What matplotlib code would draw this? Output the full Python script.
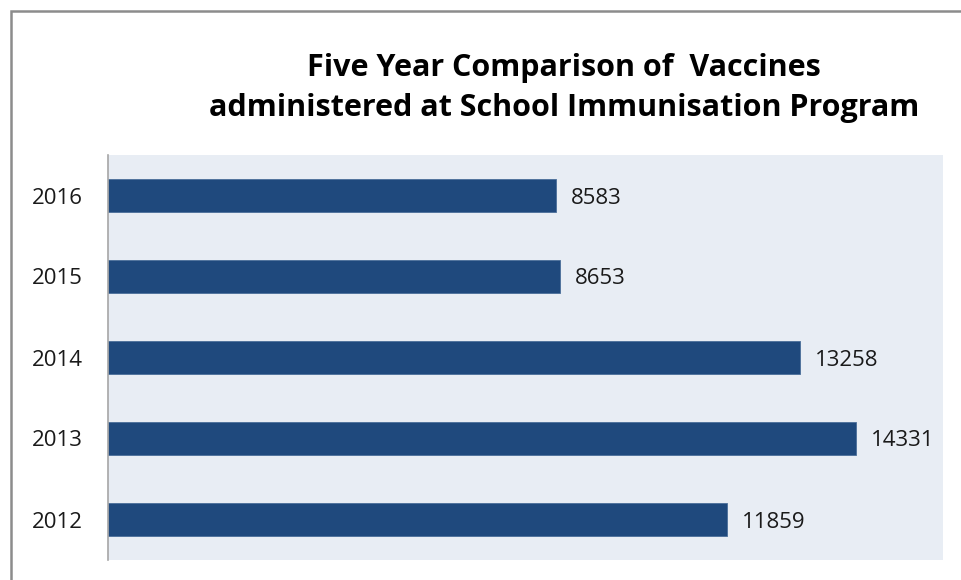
import matplotlib.pyplot as plt
from matplotlib.patches import Rectangle

years = ["2012", "2013", "2014", "2015", "2016"]
vaccines = [11859, 14331, 13258, 8653, 8583]

bar_color = "#1F497D"
panel_color = "#E8EDF4"

plt.rcParams["font.family"] = ["Open Sans", "DejaVu Sans"]

fig = plt.figure(figsize=(9.62, 5.8), dpi=100)

# gray frame around the chart, running off the right and bottom edges
fig.patches.append(Rectangle((11 / 962, -0.05), 1.0, 1 - 11 / 580 + 0.05,
                             transform=fig.transFigure, fill=False,
                             edgecolor="#8C8C8C", linewidth=1.8))

ax = fig.add_axes([108 / 962, 20 / 580, 835 / 962, 405 / 580])
ax.set_facecolor(panel_color)

pos = range(len(years))
bars = ax.barh(pos, vaccines, height=0.4, color=bar_color,
               edgecolor="#4A6E9A", linewidth=0.6)
for b, v in zip(bars, vaccines):
    ax.text(v + 290, b.get_y() + b.get_height() / 2, str(v),
            va="center_baseline", ha="left", fontsize=16, color="#1a1a1a")

ax.set_xlim(0, 16000)
ax.set_ylim(-0.5, len(years) - 0.5)
ax.set_yticks(list(pos))
ax.set_yticklabels(years, fontsize=16, color="#1a1a1a")
ax.tick_params(axis="y", length=0, pad=18)
ax.set_xticks([])
for side in ["top", "right", "bottom"]:
    ax.spines[side].set_visible(False)
ax.spines["left"].set_color("#A6A6A6")
ax.spines["left"].set_linewidth(1.2)

fig.text(564 / 962, 1 - 88 / 580,
         "Five Year Comparison of  Vaccines\nadministered at School Immunisation Program",
         ha="center", va="center", fontsize=22, fontweight="bold",
         linespacing=1.45, color="black")

fig.savefig("out.png", dpi=100)
